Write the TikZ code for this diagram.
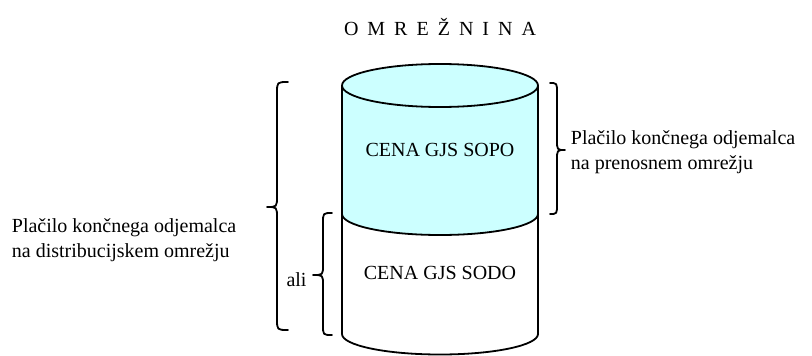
\documentclass[tikz,border=0pt]{standalone}
\usepackage{fontspec}
\setmainfont{Liberation Serif}
\newfontfamily\serifgar{Liberation Serif}
\definecolor{cylcyan}{RGB}{204,255,255}
\begin{document}
\begin{tikzpicture}[x=1pt,y=-1pt,line width=1.8pt,
  lbl/.style={font=\serifgar\fontsize{20}{25}\selectfont,inner sep=0pt,anchor=base},
  side/.style={font=\serifgar\fontsize{20}{25}\selectfont,inner sep=0pt,align=left,anchor=west},
  bracepath/.style={line width=1.8pt,line join=round,line cap=round}]
\useasboundingbox (0,0) rectangle (812,356);
% lower (white) cylinder part
\draw[fill=white] (342,210) -- (342,334) arc[start angle=180,end angle=0,x radius=98,y radius=20.5] -- (538,210);
% upper (cyan) cylinder part
\fill[cylcyan] (342,85.5) -- (342,214) arc[start angle=180,end angle=0,x radius=98,y radius=21] -- (538,85.5) -- cycle;
\draw (342,85.5) -- (342,214) arc[start angle=180,end angle=0,x radius=98,y radius=21] -- (538,85.5);
\draw[fill=cylcyan] (440,85.5) ellipse[x radius=98,y radius=21.5];
% texts
\node[lbl] (title) at (440,35) {O\hspace{9pt}M\hspace{9pt}R\hspace{9pt}E\hspace{9pt}Ž\hspace{9pt}N\hspace{9pt}I\hspace{9pt}N\hspace{9pt}A};
\node[lbl] (sopo) at (440,156) {CENA GJS SOPO};
\node[lbl] (sodo) at (440,279) {CENA GJS SODO};
\node[lbl] (ali) at (296.5,286) {ali};
\node[side] (prenos) at (570,152) {Plačilo končnega odjemalca\\na prenosnem omrežju};
\node[side] (distr) at (11,240) {Plačilo končnega odjemalca\\na distribucijskem omrežju};
% braces
\coordinate (bigtop) at (288,82);
\coordinate (bigbot) at (288,330);
\coordinate (bigtip) at (267,207);
\draw[bracepath] (bigtop) .. controls (277,82) .. (277,93) -- (277,196) .. controls (277,207) .. (bigtip) .. controls (277,207) .. (277,218) -- (277,319) .. controls (277,330) .. (bigbot);
\coordinate (smtop) at (332,213);
\coordinate (smbot) at (332,335);
\coordinate (smtip) at (313,275);
\draw[bracepath] (smtop) .. controls (323,213) .. (323,223) -- (323,265) .. controls (323,275) .. (smtip) .. controls (323,275) .. (323,285) -- (323,325) .. controls (323,335) .. (smbot);
\coordinate (rtop) at (550,83);
\coordinate (rbot) at (550,214);
\coordinate (rtip) at (565,150);
\draw[bracepath] (rtop) .. controls (557,83) .. (557,93) -- (557,140) .. controls (557,150) .. (rtip) .. controls (557,150) .. (557,160) -- (557,204) .. controls (557,214) .. (rbot);
\end{tikzpicture}
\end{document}
